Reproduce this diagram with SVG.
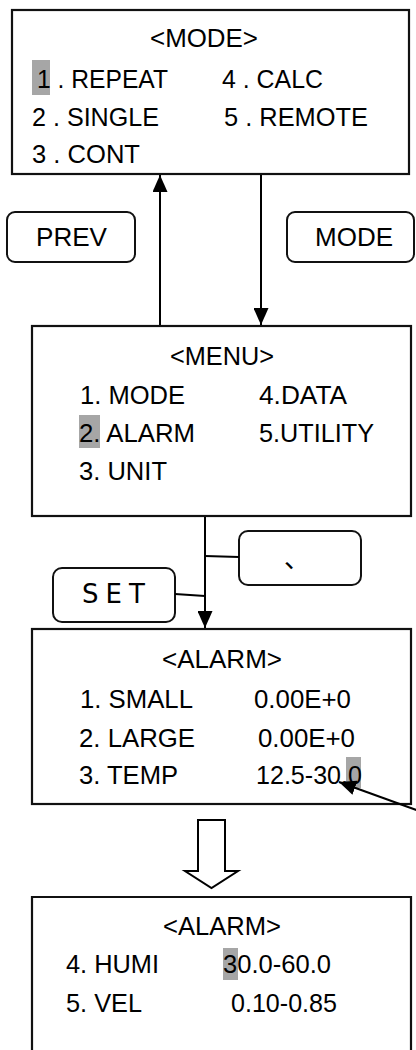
<svg xmlns="http://www.w3.org/2000/svg" width="416" height="1050" viewBox="0 0 416 1050">
<style>
.box{fill:#fff;stroke:#111;stroke-width:2.2}
.btn{fill:#fff;stroke:#111;stroke-width:2}
.t{font-family:"Liberation Sans",Arial,sans-serif;font-size:26px;fill:#000}
.tb{font-family:"Liberation Sans",Arial,sans-serif;font-size:26px;fill:#000}
.hl{fill:#a6a6a6}
.ln{stroke:#000;stroke-width:2;fill:none}
</style>
<defs>
<marker id="ah" markerWidth="17" markerHeight="15" viewBox="0 0 17 15" refX="17" refY="7.5" orient="auto" markerUnits="userSpaceOnUse">
<path d="M0,0 L17,7.5 L0,15 Z" fill="#000"/>
</marker>
</defs>
<rect width="416" height="1050" fill="#fff"/>

<g id="mode-screen">
<rect class="box" x="12" y="10" width="397" height="164"/>
<rect class="hl" x="32" y="60" width="18" height="35"/>
<text class="t" x="150" y="47" textLength="108" lengthAdjust="spacingAndGlyphs">&lt;MODE&gt;</text>
<text class="t" x="37" y="88" textLength="131" lengthAdjust="spacingAndGlyphs">1 . REPEAT</text>
<text class="t" x="222" y="88" textLength="101" lengthAdjust="spacingAndGlyphs">4 . CALC</text>
<text class="t" x="32" y="126" textLength="127" lengthAdjust="spacingAndGlyphs">2 . SINGLE</text>
<text class="t" x="224" y="126" textLength="144" lengthAdjust="spacingAndGlyphs">5 . REMOTE</text>
<text class="t" x="32" y="163" textLength="108" lengthAdjust="spacingAndGlyphs">3 . CONT</text>
</g>

<g id="prev-button">
<rect class="btn" x="7" y="212" width="128" height="50" rx="8"/>
<text class="tb" x="36" y="246" textLength="71" lengthAdjust="spacingAndGlyphs">PREV</text>
</g>

<g id="mode-button">
<rect class="btn" x="287" y="212" width="127" height="50" rx="8"/>
<text class="tb" x="315" y="246" textLength="78" lengthAdjust="spacingAndGlyphs">MODE</text>
</g>

<g id="menu-screen">
<rect class="box" x="32" y="326" width="379" height="190"/>
<rect class="hl" x="79" y="415" width="21" height="33"/>
<text class="t" x="170" y="365" textLength="104" lengthAdjust="spacingAndGlyphs">&lt;MENU&gt;</text>
<text class="t" x="80" y="404" textLength="105" lengthAdjust="spacingAndGlyphs">1. MODE</text>
<text class="t" x="259" y="404" textLength="88" lengthAdjust="spacingAndGlyphs">4.DATA</text>
<text class="t" x="79" y="442" textLength="116" lengthAdjust="spacingAndGlyphs">2. ALARM</text>
<text class="t" x="259" y="442" textLength="115" lengthAdjust="spacingAndGlyphs">5.UTILITY</text>
<text class="t" x="79" y="480" textLength="88" lengthAdjust="spacingAndGlyphs">3. UNIT</text>
</g>

<g id="comma-button">
<rect class="btn" x="239" y="531" width="122" height="54" rx="9"/>
<text x="284" y="568" style="font-family:'Noto Sans CJK JP',sans-serif;font-size:26px">、</text>
</g>

<g id="set-button">
<rect class="btn" x="53" y="568" width="122" height="54" rx="9"/>
<text x="82" y="603" style="font-family:'DejaVu Sans',sans-serif;font-size:26px" textLength="63" lengthAdjust="spacing">S E T</text>
</g>

<g id="alarm-screen-1">
<rect class="box" x="32" y="629" width="379" height="175"/>
<rect class="hl" x="346" y="757" width="15" height="31"/>
<text class="t" x="162" y="668" textLength="120" lengthAdjust="spacingAndGlyphs">&lt;ALARM&gt;</text>
<text class="t" x="80" y="708" textLength="113" lengthAdjust="spacingAndGlyphs">1. SMALL</text>
<text class="t" x="254" y="708" textLength="97" lengthAdjust="spacingAndGlyphs">0.00E+0</text>
<text class="t" x="79" y="747" textLength="116" lengthAdjust="spacingAndGlyphs">2. LARGE</text>
<text class="t" x="258" y="747" textLength="97" lengthAdjust="spacingAndGlyphs">0.00E+0</text>
<text class="t" x="79" y="784" textLength="99" lengthAdjust="spacingAndGlyphs">3. TEMP</text>
<text class="t" x="256" y="784" textLength="106" lengthAdjust="spacingAndGlyphs">12.5-30.0</text>
</g>

<g id="alarm-screen-2">
<path class="box" d="M32,1052 V897 H411 V1052"/>
<rect class="hl" x="223" y="948" width="15" height="32"/>
<text class="t" x="163" y="935" textLength="118" lengthAdjust="spacingAndGlyphs">&lt;ALARM&gt;</text>
<text class="t" x="66" y="973" textLength="93" lengthAdjust="spacingAndGlyphs">4. HUMI</text>
<text class="t" x="223" y="973" textLength="108" lengthAdjust="spacingAndGlyphs">30.0-60.0</text>
<text class="t" x="66" y="1012" textLength="76" lengthAdjust="spacingAndGlyphs">5. VEL</text>
<text class="t" x="231" y="1012" textLength="106" lengthAdjust="spacingAndGlyphs">0.10-0.85</text>
</g>

<g id="connectors">
<line class="ln" x1="160" y1="325" x2="160" y2="175" marker-end="url(#ah)"/>
<line class="ln" x1="261" y1="175" x2="261" y2="325" marker-end="url(#ah)"/>
<line class="ln" x1="205" y1="517" x2="205" y2="628" marker-end="url(#ah)"/>
<line class="ln" x1="205" y1="556" x2="239" y2="557"/>
<line class="ln" x1="175" y1="594" x2="205" y2="596"/>
<line class="ln" x1="430" y1="815" x2="339" y2="782" marker-end="url(#ah)"/>
<path id="block-arrow" d="M198,820 H225 V871 H238 L211.5,888 L185,871 H198 Z" fill="#fff" stroke="#000" stroke-width="2"/>
</g>
</svg>
